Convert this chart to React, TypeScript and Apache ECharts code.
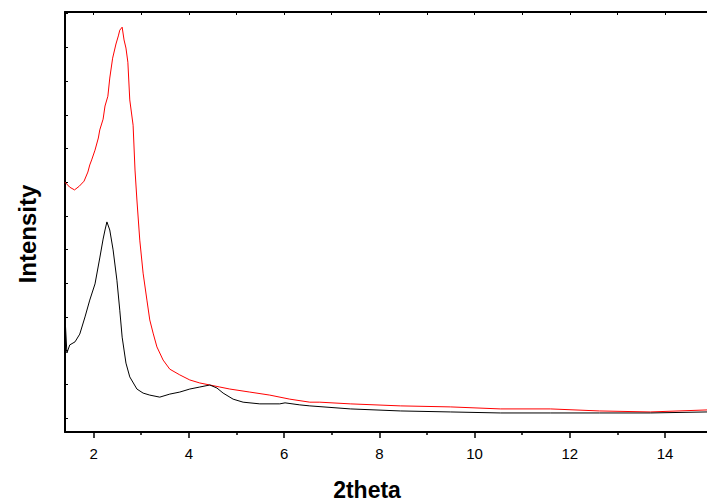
import React, { useEffect, useRef } from "react";
import * as echarts from "echarts";

const redX = [1.40, 1.50, 1.60, 1.70, 1.80, 1.88, 1.92, 1.96, 2.03, 2.10, 2.13, 2.20, 2.24, 2.30, 2.34, 2.40, 2.47, 2.52, 2.55, 2.60, 2.64, 2.68, 2.72, 2.76, 2.83, 2.87, 2.91, 2.97, 3.04, 3.12, 3.18, 3.25, 3.33, 3.46, 3.60, 3.81, 4.02, 4.23, 4.44, 4.65, 4.86, 5.28, 5.70, 6.12, 6.54, 6.75, 7.39, 8.44, 9.49, 10.54, 11.59, 12.62, 13.69, 14.88];
const redY = [7.00, 6.85, 6.77, 6.88, 7.03, 7.30, 7.51, 7.66, 7.95, 8.31, 8.55, 8.87, 9.26, 9.55, 10.09, 10.68, 11.10, 11.34, 11.51, 11.60, 11.22, 10.98, 10.56, 9.44, 8.69, 7.36, 6.47, 5.28, 4.30, 3.50, 2.91, 2.52, 2.11, 1.72, 1.45, 1.28, 1.13, 1.04, 0.98, 0.92, 0.86, 0.77, 0.68, 0.56, 0.47, 0.47, 0.42, 0.36, 0.33, 0.27, 0.27, 0.21, 0.18, 0.24];

const blackX = [1.40, 1.44, 1.50, 1.61, 1.71, 1.82, 1.92, 2.03, 2.13, 2.20, 2.24, 2.28, 2.34, 2.41, 2.49, 2.55, 2.60, 2.68, 2.76, 2.91, 3.04, 3.18, 3.39, 3.60, 3.81, 4.02, 4.23, 4.44, 4.59, 4.72, 4.93, 5.14, 5.49, 5.91, 6.02, 6.33, 6.54, 7.39, 8.44, 9.49, 10.54, 11.59, 12.62, 13.69, 14.88];
const blackY = [3.00, 1.93, 2.17, 2.26, 2.49, 3.00, 3.50, 3.98, 4.75, 5.31, 5.58, 5.82, 5.58, 4.99, 4.09, 3.20, 2.40, 1.63, 1.22, 0.86, 0.74, 0.68, 0.62, 0.71, 0.77, 0.86, 0.92, 0.98, 0.89, 0.74, 0.56, 0.47, 0.42, 0.42, 0.45, 0.39, 0.36, 0.27, 0.21, 0.18, 0.15, 0.15, 0.15, 0.15, 0.18];

const xMajorTicks = [2, 4, 6, 8, 10, 12, 14];
const xMinorTicks = [3, 5, 7, 9, 11, 13];
const xTopTicks = [2, 3, 4, 5, 6, 7, 8, 9, 10, 11, 12, 13, 14];
const yTicks = [0, 1, 2, 3, 4, 5, 6, 7, 8, 9, 10, 11, 12];

const xTitle = "2theta";
const yTitle = "Intensity";

const FONT = "Liberation Sans, Arial, sans-serif";

export default function App() {
  const ref = useRef<HTMLDivElement>(null);
  useEffect(() => {
    if (!ref.current) return;
    const chart = echarts.init(ref.current, undefined, { renderer: "svg" });
    const pair = (xs: number[], ys: number[]) => xs.map((x, i) => [x, ys[i]]);
    const xMin = 1.4;
    const xMax = 14.88;
    chart.setOption({
      animation: false,
      backgroundColor: "#ffffff",
      grid: { left: 65, top: 12, right: 0, bottom: 72, containLabel: false },
      graphic: [
        {
          type: "text",
          x: 367,
          y: 490,
          style: { text: xTitle, fontFamily: FONT, fontWeight: "bold", fontSize: 23, fill: "#000", align: "center", verticalAlign: "middle" },
        },
        {
          type: "text",
          x: 27,
          y: 234,
          rotation: Math.PI / 2,
          style: { text: yTitle, fontFamily: FONT, fontWeight: "bold", fontSize: 24, fill: "#000", align: "center", verticalAlign: "middle" },
        },
      ],
      xAxis: [
        {
          type: "value",
          position: "bottom",
          min: xMin,
          max: xMax,
          axisLine: { show: true, onZero: false, lineStyle: { color: "#000", width: 2 } },
          axisTick: { show: true, inside: false, length: 6, customValues: xMajorTicks, lineStyle: { color: "#000", width: 1.5 } },
          axisLabel: { show: true, customValues: xMajorTicks, margin: 14, fontFamily: FONT, fontSize: 15, color: "#000" },
          splitLine: { show: false },
        },
        {
          type: "value",
          position: "bottom",
          min: xMin,
          max: xMax,
          axisLine: { show: false, onZero: false },
          axisTick: { show: true, inside: false, length: 3, customValues: xMinorTicks, lineStyle: { color: "#000", width: 1.5 } },
          axisLabel: { show: false },
          splitLine: { show: false },
        },
        {
          type: "value",
          position: "top",
          min: xMin,
          max: xMax,
          axisLine: { show: true, onZero: false, lineStyle: { color: "#000", width: 2 } },
          axisTick: { show: true, inside: true, length: 3, customValues: xTopTicks, lineStyle: { color: "#000", width: 1 } },
          axisLabel: { show: false },
          splitLine: { show: false },
        },
      ],
      yAxis: [
        {
          type: "value",
          position: "left",
          min: -0.415,
          max: 12.05,
          axisLine: { show: true, onZero: false, lineStyle: { color: "#000", width: 2 } },
          axisTick: { show: true, inside: true, length: 3, customValues: yTicks, lineStyle: { color: "#000", width: 1 } },
          axisLabel: { show: false },
          splitLine: { show: false },
        },
      ],
      series: [
        {
          type: "line",
          name: "red",
          data: pair(redX, redY),
          showSymbol: false,
          symbol: "none",
          lineStyle: { color: "#ff0000", width: 1 },
          itemStyle: { color: "#ff0000" },
        },
        {
          type: "line",
          name: "black",
          data: pair(blackX, blackY),
          showSymbol: false,
          symbol: "none",
          lineStyle: { color: "#000000", width: 1 },
          itemStyle: { color: "#000000" },
        },
      ],
    });
    return () => chart.dispose();
  }, []);
  return <div ref={ref} style={{ position: "fixed", left: 0, top: 0, width: 707, height: 504 }} />;
}
